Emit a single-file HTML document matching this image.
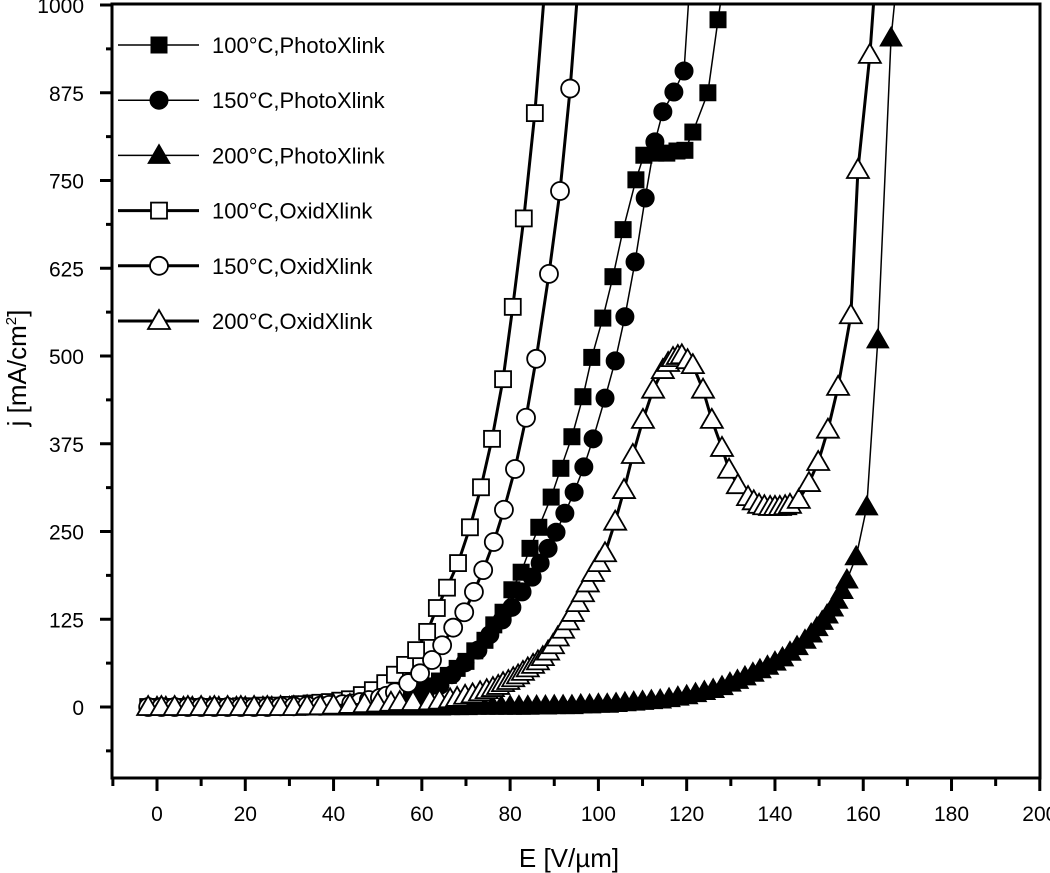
<!DOCTYPE html>
<html><head><meta charset="utf-8"><style>
html,body{margin:0;padding:0;background:#fff;}
svg{display:block;font-family:"Liberation Sans",sans-serif;}
</style></head><body>
<svg id="chart" width="1050" height="873" viewBox="0 0 1050 873" xmlns="http://www.w3.org/2000/svg">
<defs><clipPath id="plotclip"><rect x="112" y="4" width="928" height="774"/></clipPath></defs>
<g id="plot" clip-path="url(#plotclip)"></g>
<rect x="112" y="4" width="928" height="774" fill="none" stroke="#000" stroke-width="3"/>
<g id="axes"></g>
<g id="legend"></g>
<text x="569" y="867" font-size="26" text-anchor="middle">E [V/µm]</text>
<text transform="translate(26,368) rotate(-90)" font-size="26" text-anchor="middle">j [mA/cm<tspan font-size="15" dy="-10">2</tspan><tspan dy="10">]</tspan></text>
</svg>
<script>
const xTicks=[0,20,40,60,80,100,120,140,160,180,200];
const yTicks=[0,125,250,375,500,625,750,875,1000];
const yTickLabels=["0","125","250","375","500","625","750","875","1000"];

const p100x=[-2,1,4,7,10,13,16,19,22,25,28,31,34,37,40,43,45,48,50,52,54,56,58,60,62,64,66,68,70,72,74.3,76.3,78.4,80.4,82.5,84.5,86.5,89.3,91.5,94,96.5,98.5,101,103.3,105.6,108.5,110.3,113,115.5,117.8,119.6,121.4,124.8,127.1,129];
const p100y=[0,0,0,0,0,0,0,0,0,1,1,1,1,1,2,2,2,4,5,7,10,14,18,24,30,37,45,55,65,80,95,117,135,167,192,226,256,299,340,385,442,498,554,613,680,751,786,789,789,792,793,819,875,979,1060];
const p150x=[-2,1,4,7,10,13,16,19,22,25,28,31,34,37,40,43,46,48,50,53,55,57.3,60.7,64.1,66.8,69.8,72.7,75.4,78.2,80.4,82.7,85,86.8,88.6,90.4,92.4,94.5,96.7,98.8,101.5,103.8,106,108.3,110.6,112.8,114.6,117.1,119.4,121];
const p150y=[0,0,0,0,0,0,0,0,0,0,1,1,1,1,2,3,4,5,6,8,10,13,20,31,46,63,81,103,124,142,164,185,205,226,249,276,306,342,382,440,493,556,634,725,805,848,876,906,1060];
const p200x=[-2,0,2,4,6,8,10,12,14,16,18,20,22,24,26,28,30,32,34,36,38,40,42,44,46,48,50,52,54,56,58,60,62,64,66,68,70,72,74,76,78,80,82,84,86,88,90,92,94,96,98,100,102,104,106,108,110,112,114,116,118,120,122,124,126,128,129.8,131.5,133.2,135,136.6,138.3,140,141.7,143.4,145,146.8,148.2,149.5,150.7,151.8,153,154,155.2,156.3,158.4,160.8,163.3,166.3,168];
const p200y=[0,0,0,0,0,0,0,0,0,0,0,0,0,0,0,0,0,0,0,0,0,0,0,0,0,0,0,0,0,0,0,0,0,0,0.5,0.5,0.5,1,1,1,1,1,1,1,1.5,1.5,2,2,2,3,3,4,4,5,6,7,8,9,10,12,14,16,19,22,25,29,34,38,43,48,53,58,64,70,78,86,95,104,113,122,131,141,152,166,181,214,285,523,953,1060];
const o100x=[-2,1,4,7,10,13,16,19,21,24,27,30,32.4,35,37,39.2,41.5,43.7,46.4,48.9,51.7,53.9,56.2,58.7,61.2,63.4,65.7,68.2,70.9,73.4,75.9,78.4,80.6,83.1,85.6,88.3];
const o100y=[0,0,0,0,0,0,0,1,1,2,2,3,4,5,6,7,9,11,17,24,34,46,60,81,107,141,170,205,256,313,382,467,570,696,846,1060];
const o150x=[-2,1,4,7,10,13,16,19,22,25,28,31,34,37,39,42,44,46,48,50.5,52,53.9,56.9,59.6,62.3,64.6,67.1,69.6,71.8,73.9,76.3,78.6,81.1,83.6,85.9,88.8,91.3,93.6,95.8];
const o150y=[0,0,0,0,0,0,0,0,0,0,1,1,2,2,3,4,5,7,10,13,16,21,34,48,67,88,113,135,164,195,235,281,339,412,496,617,735,881,1060];
const o200x=[-2,1,4,7,10,13,16,19,22,25,28,31,34,37,40,43.7,47,50,53,55,58,61.8,64,66.4,68,69.8,71.5,73.2,74.7,76.1,77.3,78.4,79.6,80.7,81.8,82.9,84,85.2,86.3,87.4,88.6,89.7,90.8,92,93.1,94.2,95.3,96.5,97.6,98.8,100.1,101.5,103.8,105.8,107.8,110.1,112.4,114.6,115.8,116.9,118,118.9,120.2,121.4,123.7,125.7,128,129.6,131.6,133.9,135.2,136.4,137.6,138.9,140,141.1,142.3,143.4,145.4,147.7,149.8,152,154.3,157.2,158.8,161.5,163];
const o200y=[0,0,0,0,0,0,0,0,0,0,0,0,1,1,2,3,4,5,6,7,7,8,9,11,13,16,18,21,24,27,30,34,37,41,45,50,55,60,65,71,79,88,99,110,122,134,148,162,176,191,205,219,264,309,359,409,452,480,490,497,500,501,494,487,452,409,369,338,316,299,293,288,286,285,285,285,286,288,295,319,349,395,456,558,765,929,1060];

const X0=157,XS=4.414,Y0=707,YS=0.702;
function sx(v){return X0+v*XS;}
function sy(v){return Y0-v*YS;}
const NS="http://www.w3.org/2000/svg";
function mk(tag,attrs,parent){const e=document.createElementNS(NS,tag);for(const k in attrs)e.setAttribute(k,attrs[k]);parent.appendChild(e);return e;}
const axes=document.getElementById('axes');
const plot=document.getElementById('plot');
const legend=document.getElementById('legend');

for(let v=-10;v<=200;v+=10){
  const major=v%20===0;
  const t=mk('line',{x1:sx(v),x2:sx(v),y1:778,y2:major?791:786,stroke:'#000','stroke-width':3},axes);
  
  
}
xTicks.forEach(v=>{
  const t=mk('text',{x:sx(v),y:821,'font-size':21,'text-anchor':'middle'},axes);
  t.textContent=String(v);
  
  
});
for(let v=-62.5;v<=1000;v+=62.5){
  const major=Math.abs(v/125-Math.round(v/125))<1e-6;
  const t=mk('line',{x1:major?100:106,x2:112,y1:sy(v),y2:sy(v),stroke:'#000','stroke-width':3},axes);
  
  
}
yTicks.forEach((v,i)=>{
  const t=mk('text',{x:84,y:sy(v)+8,'font-size':21,'text-anchor':'end'},axes);
  t.textContent=yTickLabels[i];
  
  
});

function marker(shape,fill,cx,cy,parent){
  const st={fill:fill?'#000':'#fff',stroke:'#000','stroke-width':fill?1:1.8};
  let e;
  if(shape==='sq'){e=mk('rect',Object.assign({x:cx-8,y:cy-8,width:16,height:16},st),parent);}
  else if(shape==='ci'){e=mk('circle',Object.assign({cx:cx,cy:cy,r:9},st),parent);}
  else {e=mk('polygon',Object.assign({points:`${cx},${cy-11} ${cx-11},${cy+8} ${cx+11},${cy+8}`},st),parent);}
  return e;
}
const series=[
 {name:'100°C,PhotoXlink',xs:p100x,ys:p100y,shape:'sq',fill:true,lw:1.5,id:'series-100c-photo'},
 {name:'150°C,PhotoXlink',xs:p150x,ys:p150y,shape:'ci',fill:true,lw:1.5,id:'series-150c-photo'},
 {name:'200°C,PhotoXlink',xs:p200x,ys:p200y,shape:'tr',fill:true,lw:1.5,id:'series-200c-photo'},
 {name:'100°C,OxidXlink',xs:o100x,ys:o100y,shape:'sq',fill:false,lw:3,id:'series-100c-oxid'},
 {name:'150°C,OxidXlink',xs:o150x,ys:o150y,shape:'ci',fill:false,lw:3,id:'series-150c-oxid'},
 {name:'200°C,OxidXlink',xs:o200x,ys:o200y,shape:'tr',fill:false,lw:3,id:'series-200c-oxid'}
];
series.forEach(s=>{
  const g=mk('g',{},plot);
  
  
  const pts=s.xs.map((x,i)=>sx(x)+','+sy(s.ys[i])).join(' ');
  const l=mk('polyline',{points:pts,fill:'none',stroke:'#000','stroke-width':s.lw},g);
  
  
  s.xs.forEach((x,i)=>{
    if(s.ys[i]>1000)return;
    const m=marker(s.shape,s.fill,sx(x),sy(s.ys[i]),g);
    
    
  });
});
series.forEach((s,i)=>{
  const y=45+i*55.2;
  const g=mk('g',{},legend);
  
  
  mk('line',{x1:118,x2:199,y1:y,y2:y,stroke:'#000','stroke-width':s.lw},g);
  marker(s.shape,s.fill,159,y,g);
  const t=mk('text',{x:212,y:y+8,'font-size':22},g);
  t.textContent=s.name;
});
</script>
</body></html>
